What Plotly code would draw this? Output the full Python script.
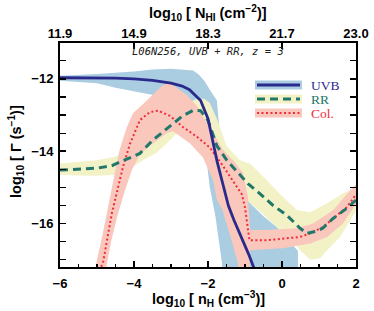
import plotly.graph_objects as go

# ---------------- data ----------------
# UVB photoionisation rate (median line)
uvb_x = [-6, -5, -4.5, -4, -3.5, -3, -2.7, -2.5, -2.2, -2.0, -1.9, -1.75, -1.6, -1.45, -1.3, -1.1, -0.9, -0.75]
uvb_y = [-11.97, -11.97, -11.98, -12.0, -12.04, -12.12, -12.2, -12.3, -12.6, -13.1, -13.6, -14.3, -14.9, -15.5, -15.9, -16.35, -16.85, -17.25]
# UVB scatter band (upper edge left->right, lower edge right->left)
uvb_up_x = [-6.1, -5, -4, -3.5, -3, -2.6, -2.4, -2.25, -2.1, -1.95, -1.76, -1.7, -1.55, -1.2, -0.95, -0.5, -0.14, 0.2, 0.43, 0.43]
uvb_up_y = [-11.92, -11.87, -11.8, -11.74, -11.72, -11.74, -11.77, -11.88, -12.05, -12.3, -12.6, -13.3, -14.0, -14.9, -15.35, -15.8, -16.1, -16.5, -16.75, -17.6]
uvb_lo_x = [-1.6, -1.62, -1.8, -1.95, -2.03, -2.2, -2.6, -3.2, -3.76, -4.5, -5, -6.1]
uvb_lo_y = [-17.6, -17.1, -15.8, -15.0, -14.33, -13.3, -12.8, -12.5, -12.4, -12.25, -12.12, -12.05]

# RR (recombination radiation)
rr_x = [-6, -5.5, -5, -4.6, -4.3, -3.84, -3.5, -3.1, -2.68, -2.4, -2.2, -2.0, -1.76, -1.49, -1.14, -0.92, -0.6, -0.24, 0.13, 0.49, 0.67, 0.9, 1.1, 1.38, 1.75, 2.0]
rr_y = [-14.52, -14.5, -14.47, -14.4, -14.27, -14.06, -13.7, -13.38, -13.02, -12.87, -12.88, -13.15, -13.85, -14.25, -14.65, -14.9, -15.17, -15.5, -15.77, -16.13, -16.27, -16.22, -16.13, -15.86, -15.58, -15.35]
rr_up_x = [-6.1, -5.5, -5, -4.5, -4.2, -3.9, -3.6, -3.3, -3.0, -2.7, -2.5, -2.3, -2.1, -1.95, -1.76, -1.5, -1.14, -0.86, -0.41, 0.03, 0.41, 0.76, 1.22, 1.65, 2.05]
rr_up_y = [-14.35, -14.3, -14.25, -14.15, -14.0, -13.8, -13.55, -13.3, -13.05, -12.8, -12.65, -12.55, -12.55, -12.67, -13.1, -13.85, -14.25, -14.35, -14.8, -15.27, -15.63, -15.69, -15.44, -15.16, -15.0]
rr_lo_x = [2.05, 1.57, 1.3, 1.03, 0.76, 0.49, 0.2, -0.14, -0.5, -0.95, -1.3, -1.6, -1.9, -2.2, -2.5, -2.84, -3.11, -3.4, -3.76, -4.2, -4.5, -5, -5.5, -6.1]
rr_lo_y = [-15.55, -16.37, -16.65, -16.96, -17.0, -16.74, -16.4, -16.1, -15.75, -15.35, -14.8, -14.2, -13.7, -13.4, -13.45, -13.5, -13.78, -14.05, -14.25, -14.55, -14.65, -14.68, -14.67, -14.65]

# Collisional ionisation
col_x = [-4.95, -4.84, -4.6, -4.38, -4.3, -4.11, -3.84, -3.57, -3.35, -3.03, -2.68, -2.3, -1.95, -1.6, -1.22, -1.08, -1.0, -0.95, -0.88, -0.41, 0.03, 0.49, 0.76, 1.1, 1.38, 1.75, 2.0]
col_y = [-17.3, -17.1, -15.72, -14.72, -14.44, -13.8, -13.14, -12.92, -12.88, -13.02, -13.33, -13.6, -13.9, -14.4, -15.0, -15.2, -15.55, -16.0, -16.46, -16.46, -16.42, -16.37, -16.27, -16.1, -15.86, -15.55, -15.2]
col_up_x = [-5.1, -5.0, -4.85, -4.7, -4.55, -4.4, -4.2, -4.03, -3.76, -3.38, -3.22, -3.03, -2.84, -2.57, -2.3, -2.1, -1.95, -1.76, -1.6, -1.41, -1.32, -1.05, -0.92, -0.86, -0.41, 0.41, 0.84, 1.38, 1.92, 2.05]
col_up_y = [-17.6, -17.0, -16.3, -15.5, -14.7, -14.0, -13.35, -12.95, -12.7, -12.31, -12.17, -12.12, -12.25, -12.45, -12.75, -13.1, -13.33, -13.69, -13.95, -14.17, -14.25, -14.6, -15.27, -16.18, -16.18, -16.13, -16.0, -15.63, -14.99, -14.9]
col_lo_x = [2.05, 1.97, 1.65, 1.22, 0.76, 0.03, -0.86, -0.88, -1.2, -1.19, -1.35, -1.62, -1.76, -1.86, -2.0, -2.14, -2.49, -2.76, -2.95, -3.11, -3.57, -3.84, -4.05, -4.25, -4.46, -4.62, -4.73, -4.78]
col_lo_y = [-15.6, -15.5, -16.0, -16.37, -16.55, -16.68, -16.74, -17.6, -17.6, -17.1, -16.5, -15.6, -15.35, -14.8, -14.5, -14.17, -13.78, -13.6, -13.45, -13.5, -13.85, -14.1, -14.5, -15.1, -15.83, -16.5, -17.1, -17.6]

x_ticks = [-6, -4, -2, 0, 2]
x_tick_labels = ["−6", "−4", "−2", "0", "2"]
y_ticks = [-12, -14, -16]
y_tick_labels = ["−12", "−14", "−16"]
top_tick_labels = ["11.9", "14.9", "18.3", "21.7", "23.0"]

# ---------------- styles ----------------
C_UVB_BAND = "#abcde2"
C_RR_BAND = "#f3f1c6"
C_COL_BAND = "#f9c7bc"
C_UVB = "#2a2a8c"
C_RR = "#21786a"
C_COL = "#ee2d3b"

fig = go.Figure()

def band(ux, uy, lx, ly, color):
    fig.add_trace(go.Scatter(x=ux + lx, y=uy + ly, fill="toself", fillcolor=color,
                             line=dict(width=0), mode="lines", hoverinfo="skip",
                             showlegend=False))

band(uvb_up_x, uvb_up_y, uvb_lo_x, uvb_lo_y, C_UVB_BAND)
band(rr_up_x, rr_up_y, rr_lo_x, rr_lo_y, C_RR_BAND)
band(col_up_x, col_up_y, col_lo_x, col_lo_y, C_COL_BAND)

fig.add_trace(go.Scatter(x=col_x, y=col_y, mode="lines", showlegend=False,
                         line=dict(color=C_COL, width=2, dash="2px,2.5px")))
fig.add_trace(go.Scatter(x=rr_x, y=rr_y, mode="lines", showlegend=False,
                         line=dict(color=C_RR, width=3, dash="8px,5px")))
fig.add_trace(go.Scatter(x=uvb_x, y=uvb_y, mode="lines", showlegend=False,
                         line=dict(color=C_UVB, width=2.8)))
# dummy trace for top axis
fig.add_trace(go.Scatter(x=[-6, 2], y=[-20, -20], xaxis="x2", mode="lines",
                         line=dict(width=0), showlegend=False, hoverinfo="skip"))

# page body margin is removed by the post script, so figure pixels = screen pixels
W, H = 374, 311
L, R, T, B = 60, 374 - 356, 43, 311 - 267
pw, ph = W - L - R, H - T - B

def px2paper(px, py):
    return (px - L) / pw, (H - B - py) / ph

# legend drawn manually
leg = [("UVB", C_UVB_BAND, C_UVB, "solid", 3, 85),
       ("RR", C_RR_BAND, C_RR, "8px,5px", 3, 99),
       ("Col.", C_COL_BAND, C_COL, "2px,2.5px", 2, 113)]
shapes = []
annotations = []
for name, bc, lc, dash, lw, py in leg:
    x0, y0 = px2paper(255, py - 4.5)
    x1, y1 = px2paper(302, py + 4.5)
    shapes.append(dict(type="rect", xref="paper", yref="paper", x0=x0, x1=x1, y0=y1, y1=y0,
                       fillcolor=bc, line=dict(width=0), layer="above"))
    xa, ya = px2paper(257, py)
    xb, _ = px2paper(300, py)
    shapes.append(dict(type="line", xref="paper", yref="paper", x0=xa, x1=xb, y0=ya, y1=ya,
                       line=dict(color=lc, width=lw, dash=dash), layer="above"))
    tx, ty = px2paper(309, py)
    annotations.append(dict(xref="paper", yref="paper", x=tx, y=ty, text=name, showarrow=False,
                            xanchor="left", yanchor="middle",
                            font=dict(family="Liberation Serif", size=13.5, color=lc)))

ax0, ay0 = px2paper(208, 51)
annotations.append(dict(xref="paper", yref="paper", x=ax0, y=ay0,
                        text="<i>L06N256, UVB + RR, z = 3</i>", showarrow=False,
                        xanchor="center", yanchor="middle",
                        font=dict(family="DejaVu Sans Mono", size=10.5, color="#222")))

# axis titles as annotations (precise placement)
font_title = dict(family="Liberation Sans", size=14.5, color="black")
tx, ty = px2paper(208, 299)
annotations.append(dict(xref="paper", yref="paper", x=tx, y=ty, showarrow=False,
                        text="<b>log<sub>10</sub> [ n<sub>H</sub> (cm<sup>−3</sup>)]</b>",
                        xanchor="center", yanchor="middle", font=font_title))
tx, ty = px2paper(208, 13)
annotations.append(dict(xref="paper", yref="paper", x=tx, y=ty, showarrow=False,
                        text="<b>log<sub>10</sub> [ N<sub>HI</sub> (cm<sup>−2</sup>)]</b>",
                        xanchor="center", yanchor="middle", font=font_title))
tx, ty = px2paper(16, 152)
annotations.append(dict(xref="paper", yref="paper", x=tx, y=ty, showarrow=False,
                        text="<b>log<sub>10</sub> [ Γ (s<sup>−1</sup>)]</b>", textangle=-90,
                        xanchor="center", yanchor="middle", font=font_title))

font_tick = dict(family="Liberation Sans", size=13, color="black", weight="bold")

fig.update_layout(
    width=W, height=H, margin=dict(l=L, r=R, t=T, b=B, autoexpand=False),
    paper_bgcolor="white", plot_bgcolor="white",
    shapes=shapes, annotations=annotations, showlegend=False,
    xaxis=dict(range=[-6, 2], tickvals=x_ticks, ticktext=x_tick_labels, automargin=False,
               ticks="inside", ticklen=6, tickwidth=1.5, tickcolor="black",
               minor=dict(dtick=0.5, ticks="inside", ticklen=3, tickwidth=1.2, tickcolor="black"),
               showline=True, linecolor="black", linewidth=2, mirror=True,
               showgrid=False, zeroline=False, tickfont=font_tick, ticklabelstandoff=3),
    xaxis2=dict(range=[-6, 2], overlaying="x", side="top", tickvals=x_ticks, automargin=False,
                ticktext=top_tick_labels, ticks="inside", ticklen=6, tickwidth=1.5,
                tickcolor="black", showgrid=False, zeroline=False, showline=False,
                tickfont=font_tick, ticklabelstandoff=1),
    yaxis=dict(range=[-17.2, -11.01], tickvals=y_ticks, ticktext=y_tick_labels, automargin=False,
               ticks="inside", ticklen=6, tickwidth=1.5, tickcolor="black",
               minor=dict(dtick=0.5, ticks="inside", ticklen=3, tickwidth=1.2, tickcolor="black"),
               showline=True, linecolor="black", linewidth=2, mirror="allticks",
               showgrid=False, zeroline=False, tickfont=font_tick, ticklabelstandoff=2),
)

fig.write_html("out.html", config={"displayModeBar": False, "staticPlot": True},
               post_script="document.body.style.margin='0';document.body.style.padding='0';")
